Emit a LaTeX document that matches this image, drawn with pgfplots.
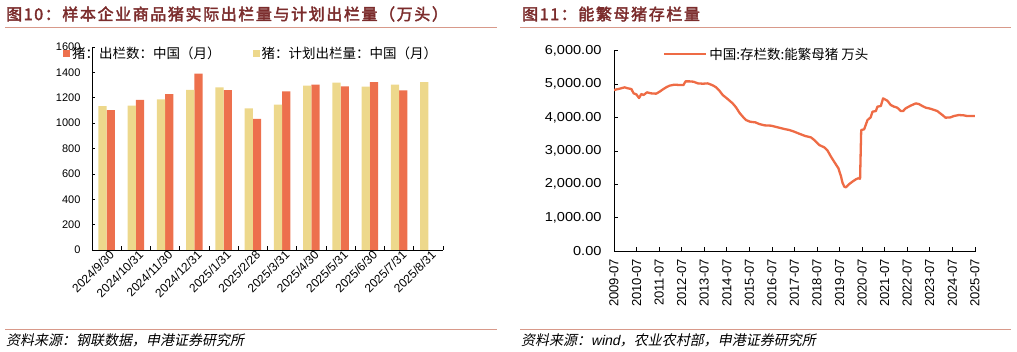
\documentclass[border=0pt]{standalone}
\usepackage{fontspec}
\usepackage{pgfplots}
\pgfplotsset{compat=1.18}
\setmainfont{Liberation Sans}
\newfontfamily\cjk{Noto Sans CJK SC}
\newfontfamily\cjktitle[FakeBold=2.5,LetterSpace=10]{Noto Sans CJK SC}
\newfontfamily\cjkslant[FakeSlant=0.2]{Noto Sans CJK SC}
\newfontfamily\slantsans[FakeSlant=0.2]{Liberation Sans}
\newfontfamily\widesans[FakeStretch=1.12]{Liberation Sans}
\definecolor{barorange}{HTML}{ED704D}
\definecolor{baryellow}{HTML}{EDD88C}
\definecolor{lineorange}{HTML}{EE6B45}
\definecolor{titlecolor}{HTML}{7B2C2C}
\definecolor{rulecolor}{HTML}{D8998A}
\begin{document}
\begin{tikzpicture}[x=1pt,y=1pt]
\useasboundingbox (0,0) rectangle (1017,352);
% titles and rules
\node[anchor=west, inner sep=0pt, text=titlecolor, font=\fontsize{16}{18}\selectfont\cjktitle] at (6,338) {图10：样本企业商品猪实际出栏量与计划出栏量（万头）};
\node[anchor=west, inner sep=0pt, text=titlecolor, font=\fontsize{16}{18}\selectfont\cjktitle] at (522,338) {图11：能繁母猪存栏量};
\draw[rulecolor, line width=1.5pt] (5,324.3) -- (497,324.3);
\draw[rulecolor, line width=1.5pt] (520,324.3) -- (1011,324.3);
\draw[rulecolor, line width=1.5pt] (5,22.7) -- (497,22.7);
\draw[rulecolor, line width=1.5pt] (520,22.7) -- (1011,22.7);
\node[anchor=west, inner sep=0pt, font=\fontsize{14}{16}\selectfont\cjkslant] at (6,12) {资料来源：钢联数据，申港证券研究所};
\node[anchor=west, inner sep=0pt, font=\fontsize{14}{16}\selectfont\cjkslant] at (521,12) {资料来源：{\slantsans wind}，农业农村部，申港证券研究所};

% left chart
\begin{axis}[
  at={(92pt,102pt)}, anchor=south west,
  scale only axis, width=351pt, height=203pt,
  ybar, bar width=8.3pt,
  xmin=-0.5, xmax=11.5, ymin=0, ymax=1600,
  axis x line*=bottom, axis y line*=left,
  axis line style={black, line width=0.8pt},
  ytick={0,200,...,1600},
  xtick={0,...,11},
  xticklabels={2024/9/30,2024/10/31,2024/11/30,2024/12/31,2025/1/31,2025/2/28,2025/3/31,2025/4/30,2025/5/31,2025/6/30,2025/7/31,2025/8/31},
  minor xtick={-0.5,0.5,...,11.5},
  major x tick style={draw=none},
  minor x tick style={black, line width=0.6pt},
  minor tick length=4pt,
  y tick style={black, line width=0.6pt},
  major tick length=3pt,
  tick align=inside,
  /pgf/number format/assume math mode=true,
  /pgf/number format/1000 sep={},
  yticklabel style={font=\fontsize{11}{12}\selectfont, xshift=-8pt},
  xticklabel style={font=\fontsize{12}{13}\selectfont, rotate=45, anchor=north east, inner sep=1pt, xshift=3pt},
  legend style={at={(-0.083,0.966)}, anchor=west, draw=none, fill=none, inner sep=0pt,
    font=\fontsize{13.5}{15}\selectfont\cjk, legend columns=2,
    /tikz/every even column/.append style={column sep=30pt}},
  legend image code/.code={\fill[#1] (0pt,-3.5pt) rectangle (7pt,3.5pt);},
]
\addplot[fill=barorange, draw=none, bar shift=4.15pt] coordinates {
(0,1103) (1,1184) (2,1229) (3,1390) (4,1261) (5,1034) (6,1250) (7,1303) (8,1290) (9,1324) (10,1258)};
\addlegendentry{猪：出栏数：中国（月）}
\addplot[fill=baryellow, draw=none, bar shift=-4.15pt] coordinates {
(0,1134) (1,1137) (2,1187) (3,1263) (4,1282) (5,1116) (6,1145) (7,1295) (8,1319) (9,1287) (10,1303) (11,1324)};
\addlegendentry{猪：计划出栏量：中国（月）}
\end{axis}

% right chart
\begin{axis}[
  at={(614pt,101pt)}, anchor=south west,
  scale only axis, width=362pt, height=200.3pt,
  xmin=2009.5, xmax=2025.55, ymin=0, ymax=6000,
  axis x line*=bottom, axis y line*=left,
  axis line style={black, line width=0.8pt},
  ytick={0,1000,2000,3000,4000,5000,6000},
  yticklabels={0.00,{1,000.00},{2,000.00},{3,000.00},{4,000.00},{5,000.00},{6,000.00}},
  xtick={2009.5,2010.5,2011.5,2012.5,2013.5,2014.5,2015.5,2016.5,2017.5,2018.5,2019.5,2020.5,2021.5,2022.5,2023.5,2024.5,2025.5},
  xticklabels={2009-07,2010-07,2011-07,2012-07,2013-07,2014-07,2015-07,2016-07,2017-07,2018-07,2019-07,2020-07,2021-07,2022-07,2023-07,2024-07,2025-07},
  tick style={black, line width=0.6pt},
  major tick length=4pt,
  tick align=inside,
  yticklabel style={font=\fontsize{13}{14}\selectfont\widesans, xshift=-9pt},
  xticklabel style={font=\fontsize{13}{14}\selectfont, rotate=90, anchor=east, inner ysep=1pt, inner xsep=8pt},
  legend style={at={(0.135,0.983)}, anchor=west, draw=none, fill=none, inner sep=0pt,
    font=\fontsize{13.5}{15}\selectfont\cjk},
  legend image code/.code={\draw[#1] (0pt,0pt) -- (42pt,0pt);},
]
\addplot[lineorange, line width=2.3pt, line join=round] coordinates {
(2009.50,4822) (2009.75,4862) (2009.97,4902) (2010.12,4872) (2010.27,4852) (2010.37,4722) (2010.49,4692) (2010.61,4582) (2010.71,4702) (2010.81,4672) (2010.96,4752) (2011.15,4722) (2011.37,4712) (2011.52,4772) (2011.67,4842) (2011.81,4902) (2011.96,4952) (2012.18,4982) (2012.41,4972) (2012.58,4972) (2012.67,5081) (2012.85,5081) (2013.02,5071) (2013.22,5021) (2013.44,5011) (2013.66,5021) (2013.88,4962) (2014.03,4902) (2014.15,4822) (2014.32,4672) (2014.54,4552) (2014.76,4422) (2014.91,4303) (2015.06,4143) (2015.21,4023) (2015.35,3923) (2015.53,3873) (2015.77,3853) (2015.94,3803) (2016.17,3764) (2016.46,3754) (2016.76,3704) (2017.05,3654) (2017.27,3624) (2017.49,3574) (2017.71,3514) (2017.98,3444) (2018.23,3404) (2018.38,3324) (2018.60,3175) (2018.82,3105) (2018.97,3005) (2019.12,2825) (2019.26,2675) (2019.45,2476) (2019.56,2246) (2019.63,2047) (2019.71,1927) (2019.78,1907) (2019.93,2007) (2020.07,2077) (2020.22,2146) (2020.32,2176) (2020.41,2166) (2020.46,3624) (2020.59,3644) (2020.66,3774) (2020.74,3923) (2020.88,4003) (2020.96,4173) (2021.11,4193) (2021.18,4323) (2021.33,4343) (2021.43,4572) (2021.62,4502) (2021.77,4372) (2021.92,4323) (2022.06,4293) (2022.21,4193) (2022.32,4193) (2022.43,4273) (2022.65,4353) (2022.88,4422) (2023.02,4402) (2023.17,4343) (2023.32,4293) (2023.47,4273) (2023.61,4243) (2023.83,4193) (2024.06,4073) (2024.20,3993) (2024.42,4003) (2024.57,4043) (2024.79,4073) (2025.01,4063) (2025.16,4043) (2025.50,4043)};
\addlegendentry{中国:存栏数:能繁母猪 万头}
\end{axis}
\end{tikzpicture}
\end{document}
